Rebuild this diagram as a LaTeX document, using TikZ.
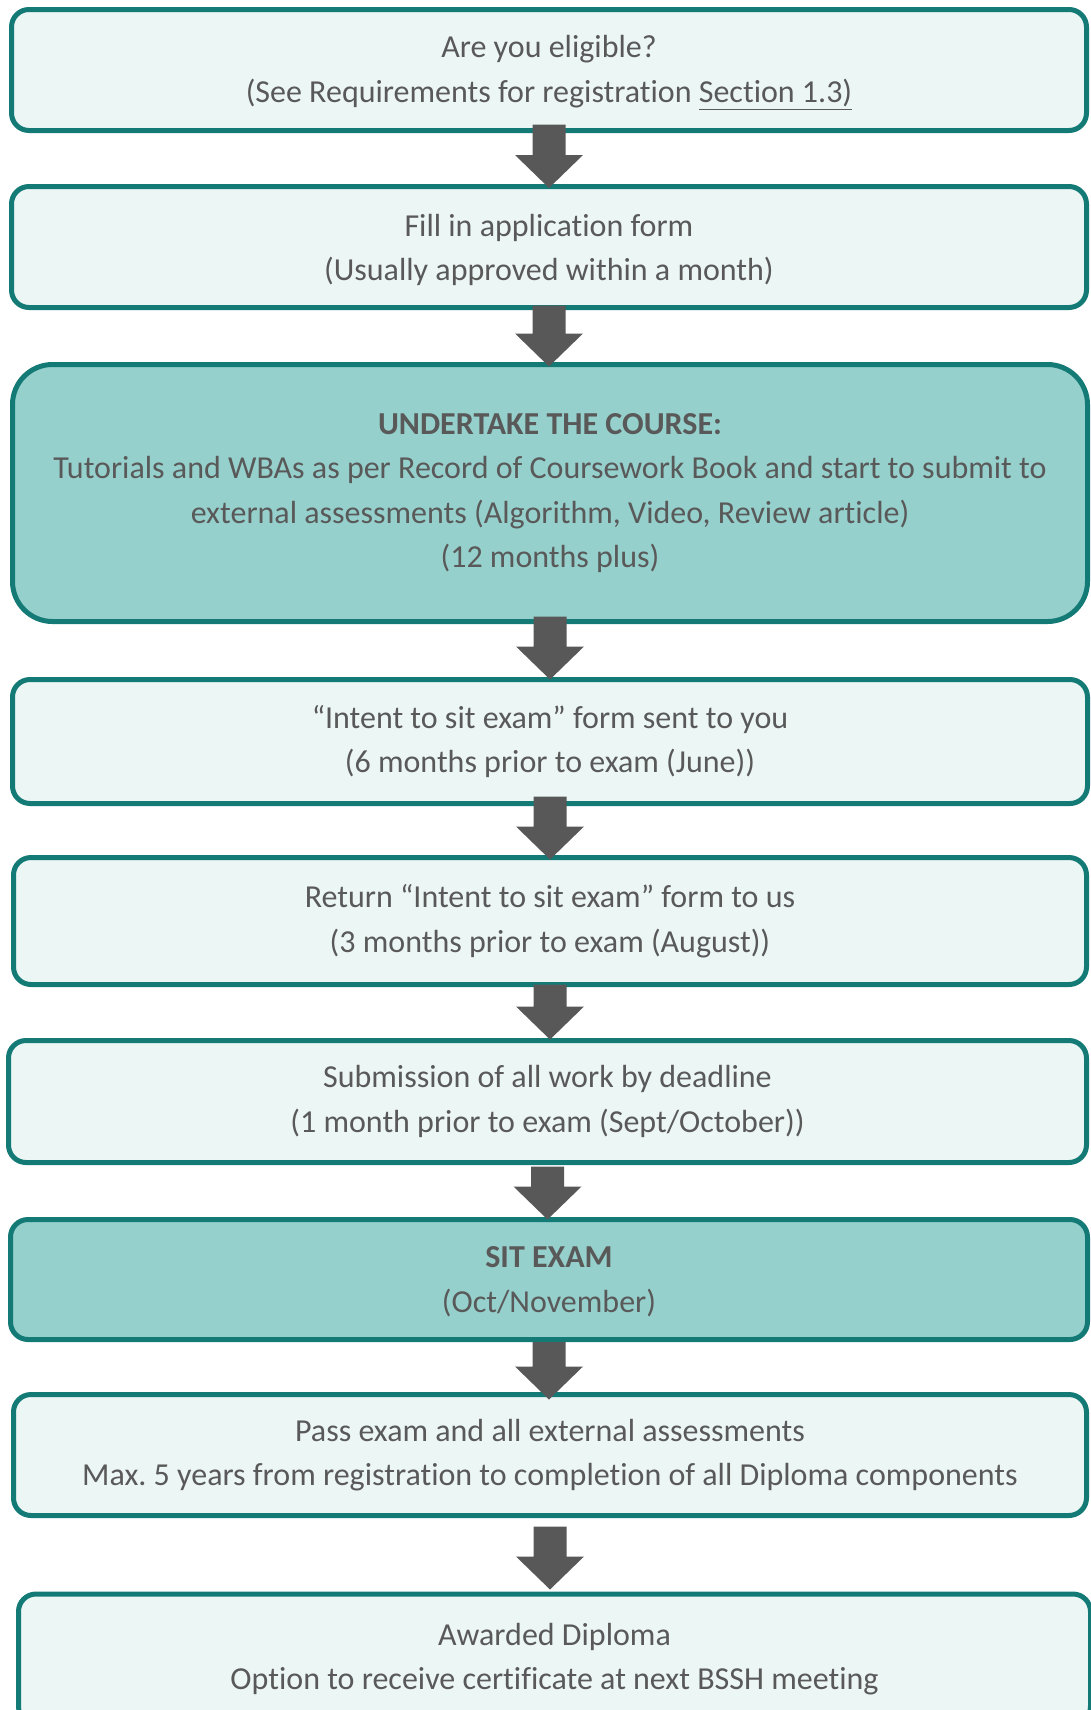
\documentclass[tikz,border=0pt]{standalone}
\usepackage{fontspec}
\setmainfont{Carlito}[Ligatures={NoCommon}]
\frenchspacing
\usetikzlibrary{calc}
\definecolor{tealb}{HTML}{147A76}
\definecolor{lightf}{HTML}{ECF6F5}
\definecolor{darkf}{HTML}{96D0CC}
\definecolor{txtc}{HTML}{595959}
\definecolor{arrc}{HTML}{585858}
\newcommand\blockarrow[4]{%
  \coordinate (s) at ($(#1.south)+(0,#3)$);
  \path (s |- #2.north) coordinate (t0);
  \coordinate (t) at ($(t0)+(0,#4)$);
  \fill[arrc] ($(s)+(-16.5,0)$) -- ($(s)+(16.5,0)$) -- ($(t)+(16.5,-33)$) -- ($(t)+(34,-33)$) -- (t) -- ($(t)+(-34,-33)$) -- ($(t)+(-16.5,-33)$) -- cycle;}
\begin{document}
\begin{tikzpicture}[x=0.5pt,y=-0.5pt,
  box/.style={draw=tealb, line width=2.5pt, fill=lightf, rounded corners=8.75pt,
    inner sep=0pt, text=txtc, align=center, font=\fontsize{16}{22.3}\selectfont},
  darkbox/.style={box, fill=darkf}]
\useasboundingbox (0,0) rectangle (1091,1710);
\clip (0,0) rectangle (1091,1710);
\node[box, minimum width=537.5pt, minimum height=60.5pt] (b1) at (549,70)
  {\rule{0pt}{14pt}Are you eligible?\\(See Requirements for registration \underline{Section 1.3)}};
\node[box, minimum width=537.5pt, minimum height=60.5pt] (b2) at (549,247)
  {\rule{0pt}{14pt}Fill in application form\\(Usually approved within a month)};
\node[darkbox, rounded corners=20pt, minimum width=537.5pt, minimum height=128.5pt] (b3) at (550,493)
  {\textbf{UNDERTAKE THE COURSE:}\\Tutorials and WBAs as per Record of Coursework Book and start to submit to\\external assessments (Algorithm, Video, Review article)\\(12 months plus)};
\node[box, minimum width=537.5pt, minimum height=62pt] (b4) at (550,741.5)
  {“Intent to sit exam” form sent to you\\(6 months prior to exam (June))};
\node[box, minimum width=536.5pt, minimum height=63.5pt] (b5) at (550,921)
  {Return “Intent to sit exam” form to us\\(3 months prior to exam (August))};
\node[box, minimum width=539pt, minimum height=61pt] (b6) at (547.5,1101.5)
  {Submission of all work by deadline\\(1 month prior to exam (Sept/October))};
\node[darkbox, minimum width=538.5pt, minimum height=60pt] (b7) at (549,1279.5)
  {\rule{0pt}{13pt}\textbf{SIT EXAM}\\(Oct/November)};
\node[box, minimum width=536.5pt, minimum height=60.5pt] (b8) at (550,1455)
  {Pass exam and all external assessments\\Max. 5 years from registration to completion of all Diploma components};
\node[box, minimum width=536pt, minimum height=65pt] (b9) at (554.5,1659)
  {Awarded Diploma\\Option to receive certificate at next BSSH meeting};
\blockarrow{b1}{b2}{-8.5}{4}
\blockarrow{b2}{b3}{-4.5}{4.5}
\blockarrow{b3}{b4}{-7.5}{2.5}
\blockarrow{b4}{b5}{-9.5}{4.5}
\blockarrow{b5}{b6}{-2.5}{1.5}
\blockarrow{b6}{b7}{1.5}{2.5}
\blockarrow{b7}{b8}{0}{7.5}
\blockarrow{b8}{b9}{8.5}{-2}
\end{tikzpicture}
\end{document}
